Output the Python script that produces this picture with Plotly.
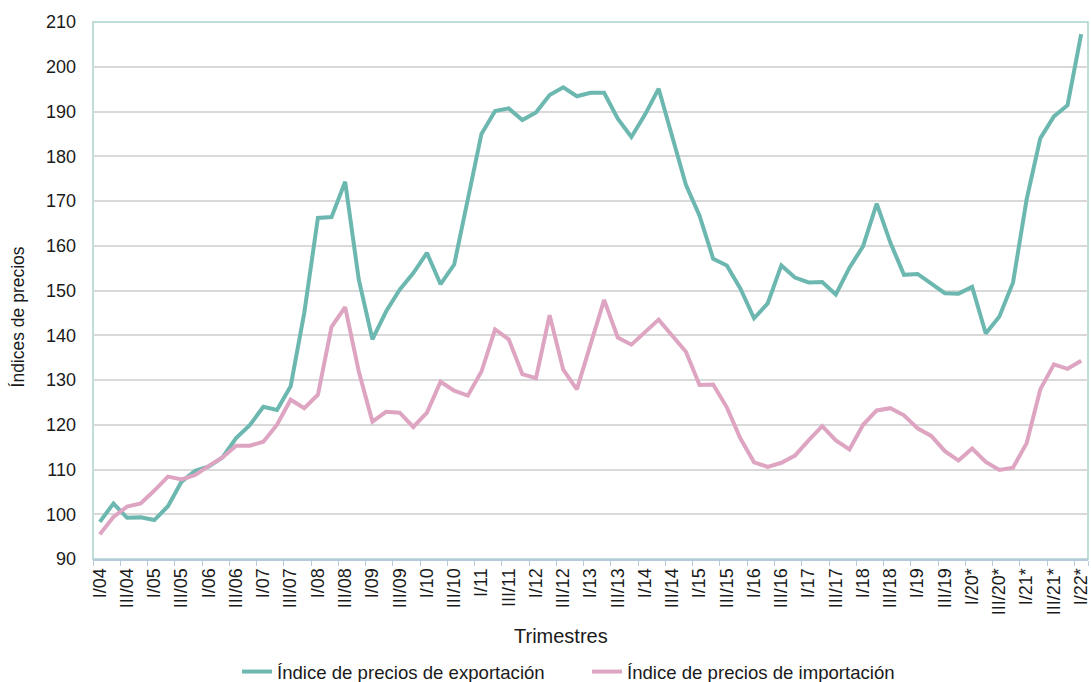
import plotly.graph_objects as go

years = list(range(4, 23))
romans = ["I", "II", "III", "IV"]
quarters = []
for y in years:
    for r in romans:
        if y == 22 and r != "I":
            break
        star = "*" if y >= 20 else ""
        quarters.append(f"{r}/{y:02d}{star}")

export_idx = [98.3, 102.4, 99.2, 99.3, 98.7, 101.8, 107.3, 109.7, 110.7, 112.7, 117.0, 119.9,
              124.0, 123.3, 128.6, 145.0, 166.2, 166.4, 174.3, 152.4, 139.1, 145.3, 150.2, 153.9,
              158.4, 151.4, 155.8, 170.6, 185.0, 190.1, 190.7, 188.1, 189.8, 193.7, 195.4, 193.4,
              194.2, 194.2, 188.4, 184.3, 189.3, 195.1, 184.4, 173.6, 166.7, 157.1, 155.6, 150.4,
              143.8, 147.1, 155.6, 152.9, 151.8, 151.9, 149.1, 155.1, 159.9, 169.4, 160.7, 153.5,
              153.7, 151.6, 149.4, 149.3, 150.8, 140.4, 144.2, 151.8, 170.4, 184.0, 188.9, 191.4,
              207.3]

import_idx = [95.5, 99.4, 101.7, 102.4, 105.3, 108.4, 107.8, 108.8, 110.8, 112.7, 115.3, 115.3,
              116.2, 120.0, 125.6, 123.7, 126.7, 141.9, 146.3, 131.9, 120.7, 122.9, 122.7, 119.5,
              122.7, 129.6, 127.6, 126.5, 131.9, 141.3, 139.1, 131.3, 130.4, 144.5, 132.3, 127.9,
              137.9, 147.9, 139.5, 137.9, 140.7, 143.5, 139.9, 136.3, 128.9, 129.0, 123.9, 116.9,
              111.6, 110.6, 111.5, 113.1, 116.5, 119.7, 116.5, 114.5, 120.0, 123.2, 123.7, 122.1,
              119.2, 117.5, 114.1, 112.0, 114.7, 111.7, 109.9, 110.4, 115.9, 127.9, 133.5, 132.5,
              134.3]

y_ticks = list(range(90, 211, 10))

teal = "#6CB8B0"
pink = "#DEA5C2"
font_family = "Liberation Sans, Arial, sans-serif"

fig = go.Figure()
fig.add_trace(go.Scatter(x=quarters, y=export_idx, mode="lines",
                         name="Índice de precios de exportación",
                         line=dict(color=teal, width=4)))
fig.add_trace(go.Scatter(x=quarters, y=import_idx, mode="lines",
                         name="Índice de precios de importación",
                         line=dict(color=pink, width=4)))

fig.add_shape(type="rect", xref="paper", yref="paper", x0=0, x1=1, y0=0, y1=1,
              line=dict(color="#A9D3CE", width=1.5), layer="below")

fig.add_annotation(text="Índices de precios", textangle=-90, showarrow=False,
                   xref="paper", yref="paper", x=-0.0759, y=0.4507,
                   xanchor="center", yanchor="middle", font=dict(size=17.5))
fig.add_annotation(text="Trimestres", showarrow=False,
                   xref="paper", yref="paper", x=0.47, y=-0.1434,
                   xanchor="center", yanchor="middle", font=dict(size=20))

fig.update_layout(
    width=1091, height=682,
    margin=dict(l=93, r=3, t=22, b=123, autoexpand=False),
    paper_bgcolor="white", plot_bgcolor="white",
    font=dict(family=font_family, size=18, color="#1a1a1a"),
    showlegend=True,
    legend=dict(orientation="h", x=0.1447, xanchor="left", y=-0.175, yanchor="top",
                font=dict(size=18.6), itemwidth=30, tracegroupgap=0,
                entrywidth=305, entrywidthmode="pixels"),
    xaxis=dict(
        type="category",
        range=[-0.5, len(quarters) - 0.5],
        autorange=False,
        automargin=False,
        tickmode="array",
        tickvals=quarters[::2],
        ticktext=quarters[::2],
        tickangle=-90,
        tickson="boundaries",
        ticks="outside", ticklen=5, tickcolor="#B7C9DA",
        showgrid=False,
        showline=True, linecolor="#B7C9DA", linewidth=2,
        tickfont=dict(size=18),
    ),
    yaxis=dict(
        range=[90, 210],
        autorange=False,
        automargin=False,
        tickmode="array", tickvals=y_ticks,
        showgrid=True, gridcolor="#D9D9D9", gridwidth=1.5,
        zeroline=False,
        showline=False,
        ticks="", ticklabelstandoff=16,
        tickfont=dict(size=18),
    ),
)

fig.write_html("out.html", config={"displayModeBar": False},
               post_script="document.body.style.margin='0';document.body.style.overflow='hidden';")
